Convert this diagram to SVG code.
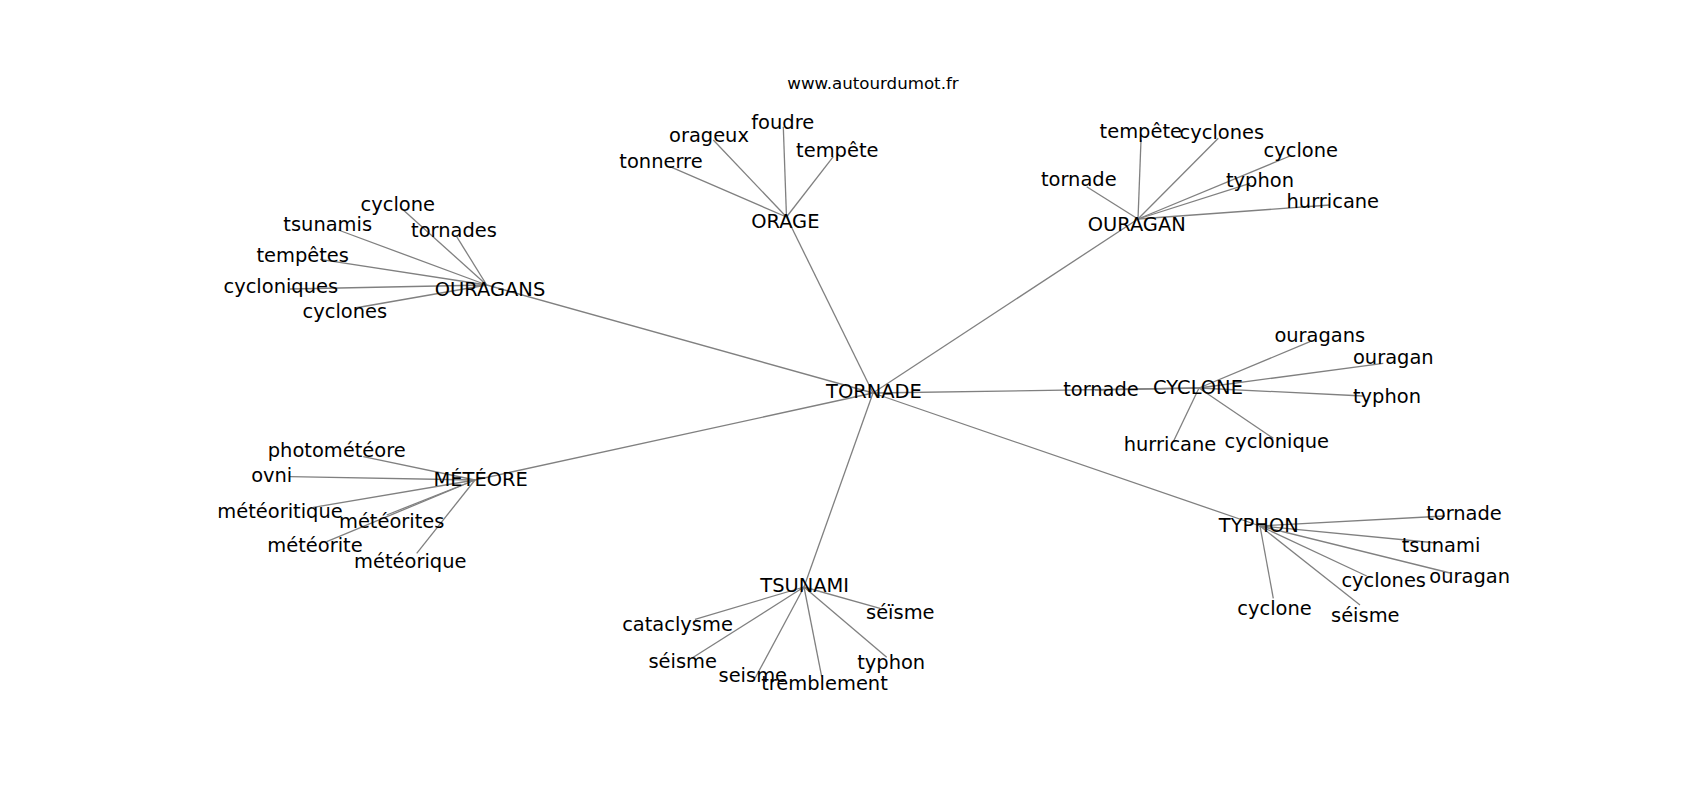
<svg xmlns="http://www.w3.org/2000/svg" width="1700" height="800" viewBox="0 0 1700 800">
<style>
text{font-family:"DejaVu Sans","Liberation Sans",sans-serif;fill:#000;text-anchor:middle}
.l{font-size:19.44px}
.t{font-size:16.67px}
#edges line{stroke:#808080;stroke-width:1.3}
</style>
<rect width="1700" height="800" fill="#fff"/>
<g id="edges">
<line x1="873" y1="393" x2="786.5" y2="217"/>
<line x1="873" y1="393" x2="486.7" y2="285"/>
<line x1="873" y1="393" x2="1138" y2="219"/>
<line x1="873" y1="393" x2="1199" y2="388"/>
<line x1="873" y1="393" x2="475" y2="480"/>
<line x1="873" y1="393" x2="804" y2="587"/>
<line x1="873" y1="393" x2="1260" y2="526"/>
<line x1="786.5" y1="217" x2="670" y2="166.7"/>
<line x1="786.5" y1="217" x2="713.3" y2="140"/>
<line x1="786.5" y1="217" x2="783.3" y2="126.7"/>
<line x1="786.5" y1="217" x2="833.3" y2="156.7"/>
<line x1="1138" y1="219" x2="1086.7" y2="186.7"/>
<line x1="1138" y1="219" x2="1141" y2="140"/>
<line x1="1138" y1="219" x2="1218.3" y2="138.3"/>
<line x1="1138" y1="219" x2="1290" y2="156"/>
<line x1="1138" y1="219" x2="1250" y2="183.3"/>
<line x1="1138" y1="219" x2="1330" y2="205"/>
<line x1="486.7" y1="285" x2="403.3" y2="210"/>
<line x1="486.7" y1="285" x2="338.3" y2="230"/>
<line x1="486.7" y1="285" x2="456.7" y2="236.7"/>
<line x1="486.7" y1="285" x2="320" y2="259.3"/>
<line x1="486.7" y1="285" x2="290" y2="289"/>
<line x1="486.7" y1="285" x2="355" y2="308"/>
<line x1="1199" y1="388" x2="1095" y2="390"/>
<line x1="1199" y1="388" x2="1310" y2="341.7"/>
<line x1="1199" y1="388" x2="1383.3" y2="363.3"/>
<line x1="1199" y1="388" x2="1363.3" y2="396"/>
<line x1="1199" y1="388" x2="1173.3" y2="441.7"/>
<line x1="1199" y1="388" x2="1273.3" y2="438.3"/>
<line x1="475" y1="480" x2="363.3" y2="456.7"/>
<line x1="475" y1="480" x2="290" y2="476.7"/>
<line x1="475" y1="480" x2="313.3" y2="507.3"/>
<line x1="475" y1="480" x2="386.7" y2="515"/>
<line x1="475" y1="480" x2="326.7" y2="541.7"/>
<line x1="475" y1="480" x2="416.7" y2="553.3"/>
<line x1="804" y1="587" x2="695" y2="619.3"/>
<line x1="804" y1="587" x2="691.7" y2="658.3"/>
<line x1="804" y1="587" x2="755" y2="678.3"/>
<line x1="804" y1="587" x2="821.7" y2="676.7"/>
<line x1="804" y1="587" x2="886.7" y2="657.3"/>
<line x1="804" y1="587" x2="880" y2="608.3"/>
<line x1="1260" y1="526" x2="1445" y2="516"/>
<line x1="1260" y1="526" x2="1437" y2="543"/>
<line x1="1260" y1="526" x2="1450" y2="573"/>
<line x1="1260" y1="526" x2="1366.7" y2="576"/>
<line x1="1260" y1="526" x2="1360" y2="605"/>
<line x1="1260" y1="526" x2="1273.3" y2="598.3"/>
</g>
<text class="t" x="873" y="89">www.autourdumot.fr</text>
<g id="n_tornade"><text class="l" x="874" y="398">TORNADE</text></g>
<g id="n_orage"><text class="l" x="785.3" y="228.3">ORAGE</text></g>
<g id="n_orage_tonnerre"><text class="l" x="661" y="168.3">tonnerre</text></g>
<g id="n_orage_orageux"><text class="l" x="709" y="141.7">orageux</text></g>
<g id="n_orage_foudre"><text class="l" x="782.7" y="129">foudre</text></g>
<g id="n_orage_tempete"><text class="l" x="837.3" y="156.7">tempête</text></g>
<g id="n_ouragan"><text class="l" x="1136.7" y="231">OURAGAN</text></g>
<g id="n_ouragan_tornade"><text class="l" x="1078.8" y="186">tornade</text></g>
<g id="n_ouragan_tempete"><text class="l" x="1140.8" y="138.3">tempête</text></g>
<g id="n_ouragan_cyclones"><text class="l" x="1221.8" y="139">cyclones</text></g>
<g id="n_ouragan_cyclone"><text class="l" x="1300.8" y="156.7">cyclone</text></g>
<g id="n_ouragan_typhon"><text class="l" x="1260" y="186.7">typhon</text></g>
<g id="n_ouragan_hurricane"><text class="l" x="1332.8" y="207.7">hurricane</text></g>
<g id="n_ouragans"><text class="l" x="490" y="296">OURAGANS</text></g>
<g id="n_ouragans_cyclone"><text class="l" x="397.8" y="210.7">cyclone</text></g>
<g id="n_ouragans_tsunamis"><text class="l" x="327.7" y="231">tsunamis</text></g>
<g id="n_ouragans_tornades"><text class="l" x="454" y="236.7">tornades</text></g>
<g id="n_ouragans_tempetes"><text class="l" x="302.7" y="261.7">tempêtes</text></g>
<g id="n_ouragans_cycloniques"><text class="l" x="280.8" y="293.3">cycloniques</text></g>
<g id="n_ouragans_cyclones"><text class="l" x="344.8" y="317.7">cyclones</text></g>
<g id="n_cyclone"><text class="l" x="1198" y="394">CYCLONE</text></g>
<g id="n_cyclone_tornade"><text class="l" x="1101" y="396">tornade</text></g>
<g id="n_cyclone_ouragans"><text class="l" x="1319.8" y="341.7">ouragans</text></g>
<g id="n_cyclone_ouragan"><text class="l" x="1393.3" y="364.3">ouragan</text></g>
<g id="n_cyclone_typhon"><text class="l" x="1387" y="403.3">typhon</text></g>
<g id="n_cyclone_hurricane"><text class="l" x="1170" y="451">hurricane</text></g>
<g id="n_cyclone_cyclonique"><text class="l" x="1276.8" y="448.3">cyclonique</text></g>
<g id="n_meteore"><text class="l" x="480.7" y="486">MÉTÉORE</text></g>
<g id="n_meteore_photometeore"><text class="l" x="336.7" y="456.7">photométéore</text></g>
<g id="n_meteore_ovni"><text class="l" x="271.7" y="481.7">ovni</text></g>
<g id="n_meteore_meteoritique"><text class="l" x="280" y="518.3">météoritique</text></g>
<g id="n_meteore_meteorites"><text class="l" x="391.7" y="528.3">météorites</text></g>
<g id="n_meteore_meteorite"><text class="l" x="315" y="551.7">météorite</text></g>
<g id="n_meteore_meteorique"><text class="l" x="410.3" y="568.3">météorique</text></g>
<g id="n_tsunami"><text class="l" x="804.7" y="591.7">TSUNAMI</text></g>
<g id="n_tsunami_cataclysme"><text class="l" x="677.5" y="631">cataclysme</text></g>
<g id="n_tsunami_seisme1"><text class="l" x="682.7" y="668.3">séisme</text></g>
<g id="n_tsunami_seisme2"><text class="l" x="752.8" y="681.7">seisme</text></g>
<g id="n_tsunami_tremblement"><text class="l" x="824.5" y="690">tremblement</text></g>
<g id="n_tsunami_typhon"><text class="l" x="891.2" y="669.3">typhon</text></g>
<g id="n_tsunami_seisme3"><text class="l" x="900.3" y="619.3">séïsme</text></g>
<g id="n_typhon"><text class="l" x="1258.8" y="532.3">TYPHON</text></g>
<g id="n_typhon_tornade"><text class="l" x="1464" y="520">tornade</text></g>
<g id="n_typhon_tsunami"><text class="l" x="1441" y="551.7">tsunami</text></g>
<g id="n_typhon_ouragan"><text class="l" x="1469.7" y="583.3">ouragan</text></g>
<g id="n_typhon_cyclones"><text class="l" x="1383.7" y="587.3">cyclones</text></g>
<g id="n_typhon_seisme"><text class="l" x="1365.3" y="621.7">séisme</text></g>
<g id="n_typhon_cyclone"><text class="l" x="1274.5" y="615">cyclone</text></g>
</svg>
